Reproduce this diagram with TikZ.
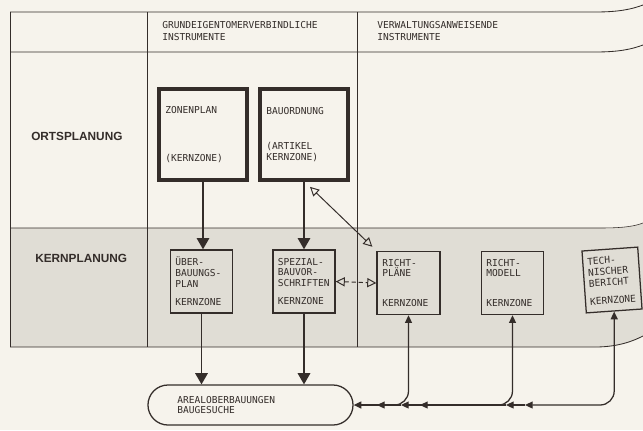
\documentclass[tikz,border=0pt]{standalone}
\usepackage{fontspec}
\setmainfont{Liberation Sans}
\newfontfamily\typo{DejaVu Sans Mono}
\usetikzlibrary{arrows.meta,calc}
\definecolor{ink}{RGB}{52,45,42}
\definecolor{paper}{RGB}{246,243,236}
\definecolor{bandc}{RGB}{224,221,213}
\begin{document}
\begin{tikzpicture}[x=0.025cm,y=-0.025cm,
  tw/.style={font=\typo\fontsize{6.8}{7.8}\selectfont, text=ink},
  rowlabel/.style={font=\bfseries\fontsize{8.4}{10}\selectfont, text=ink, inner sep=0pt, anchor=west},
  head/.style={font=\typo\fontsize{6.8}{9}\selectfont, text=ink, align=left, inner sep=0pt, anchor=west},
  gridline/.style={draw=ink, line width=0.6pt},
  thickbox/.style={tw, draw=ink, line width=2.6pt, minimum width=2.2cm, minimum height=2.275cm,
    inner xsep=4.4pt, text width=53.5pt, align=left},
  thinbox/.style={tw, draw=ink, line width=0.9pt, minimum height=1.58cm,
    inner xsep=3.4pt, text width=37.1pt, align=left},
  techbox/.style={tw, draw=ink, line width=0.9pt, minimum height=1.58cm,
    inner xsep=3.2pt, text width=33.3pt, align=left},
  termbox/.style={tw, draw=ink, line width=0.9pt, minimum width=5.125cm, minimum height=1cm,
    rounded corners=0.5cm, inner xsep=20.6pt, text width=104pt, align=left},
  conn/.style={draw=ink, line width=0.9pt},
  bigtip/.style={-{Triangle[length=8pt,width=9pt]}},
  smalltip/.tip={Triangle[length=5.5pt,width=5pt]},
  opentip/.tip={Triangle[open,length=6.5pt,width=6.5pt]}
]
% background / bounding box
\fill[paper] (0,0) rectangle (643,430);
\useasboundingbox (0,0) rectangle (643,430);

% shaded Kernplanung band
\fill[bandc] (10,228) -- (600,228) .. controls (625,228) and (635,226) .. (643,223)
  -- (643,336) .. controls (635,340) and (620,347) .. (595,347) -- (10,347) -- cycle;

% table lines
\draw[gridline] (10,12) -- (595,12) .. controls (620,12) and (632,9) .. (643,5);
\draw[gridline] (10,52) -- (595,52) .. controls (620,52) and (632,49) .. (643,45);
\draw[gridline, line width=0.4pt] (10,228) -- (600,228) .. controls (625,228) and (635,226) .. (643,223);
\draw[gridline] (10,347) -- (595,347) .. controls (620,347) and (635,340) .. (643,336);
\draw[gridline] (10,12) -- (10,347);
\draw[gridline] (147,12) -- (147,347);
\draw[gridline] (357,12) -- (357,347);

% headers
\node[head] (h1) at (162,31) {GRUNDEIGENTOMERVERBINDLICHE\\INSTRUMENTE};
\node[head] (h2) at (377,31) {VERWALTUNGSANWEISENDE\\INSTRUMENTE};
\node[rowlabel] (ort) at (31,136) {ORTSPLANUNG};
\node[rowlabel] (kern) at (35,258) {KERNPLANUNG};

% boxes
\node[thickbox] (zonen) at (203,134.5) {ZONENPLAN\\[26.2pt](KERNZONE)};
\node[thickbox] (bau) at (304,134.5) {BAUORDNUNG\\[17.7pt](ARTIKEL\\KERNZONE)};

\node[thinbox, minimum width=1.55cm] (ueber) at (201.5,281.5) {ÜBER-\\BAUUNGS-\\PLAN\\[5pt]KERNZONE};
\node[thinbox, minimum width=1.55cm] (spez) at (304,281.5) {SPEZIAL-\\BAUVOR-\\SCHRIFTEN\\[5pt]KERNZONE};
\node[thinbox, minimum width=1.575cm] (richt) at (408.5,283) {RICHT-\\PLÄNE\\[13.5pt]KERNZONE};
\node[thinbox, minimum width=1.525cm] (modell) at (512.5,283) {RICHT-\\MODELL\\[13.5pt]KERNZONE};
\node[techbox, rotate=4, minimum height=1.55cm] (tech) at (612,280) {TECH-\\NISCHER\\BERICHT\\[5pt]KERNZONE};

\node[termbox] (term) at (250.5,405) {AREALOBERBAUUNGEN\\BAUGESUCHE};

% vertical flows
\draw[conn, bigtip] (zonen.south) -- (zonen.south |- ueber.north);
\draw[conn, bigtip] (bau.south) -- (bau.south |- spez.north);
\draw[conn, bigtip] (ueber.south) -- (ueber.south |- term.north);
\draw[conn, bigtip] (spez.south) -- (spez.south |- term.north);

% open-headed links
\draw[conn, line width=0.7pt, {opentip}-{opentip}] ($(bau.south)+(6,5)$) -- ($(richt.north west)+(-4,-4)$);
\draw[conn, line width=0.7pt, dash pattern=on 3pt off 2pt, {opentip}-{opentip}] (spez.east) -- (richt.west);

% return lines to the terminal
\coordinate (t1) at (525,405);
\coordinate (t2) at (506,405);
\coordinate (m1) at (420,405);
\coordinate (m2) at (401,405);
\coordinate (r1) at (377,405);
\draw[conn, {smalltip}-{smalltip}, rounded corners=10pt] (tech.south) |- (t1);
\draw[conn, -{smalltip}] (t1) -- (t2);
\draw[conn, {smalltip}-{smalltip}, rounded corners=10pt] (modell.south) |- (m1);
\draw[conn] (t2) -- (m1);
\draw[conn, -{smalltip}] (m1) -- (m2);
\draw[conn, {smalltip}-{smalltip}, rounded corners=10pt] (richt.south) |- (r1);
\draw[conn] (m2) -- (r1);
\draw[conn, -{smalltip}] (r1) -- (term.east);
\end{tikzpicture}
\end{document}
